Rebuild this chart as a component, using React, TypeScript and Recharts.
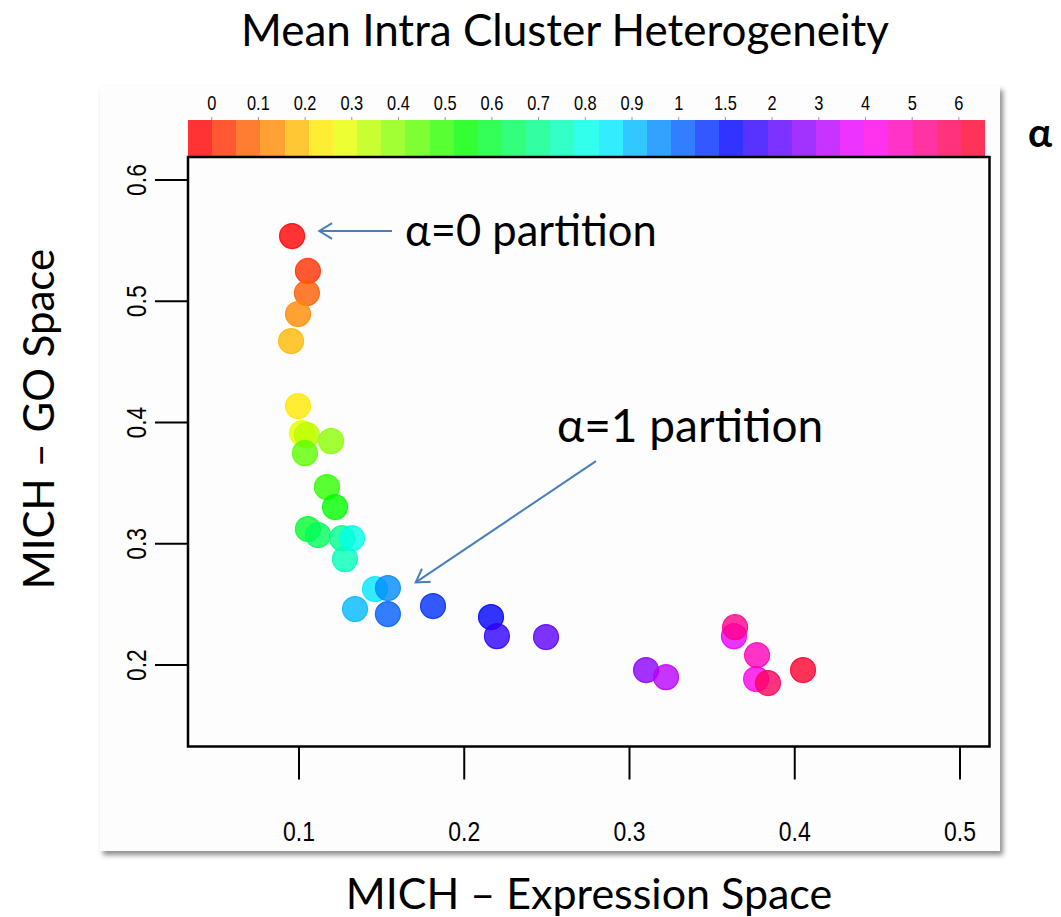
import React from 'react';
import {
  ScatterChart,
  Scatter,
  XAxis,
  YAxis,
  ReferenceArea,
  ReferenceLine,
} from 'recharts';

// ---------- data ----------
const alphaLabels = ['0', '0.1', '0.2', '0.3', '0.4', '0.5', '0.6', '0.7', '0.8', '0.9', '1', '1.5', '2', '3', '4', '5', '6'];
const alphaLabelPos = [0, 1, 2, 3, 4, 5, 6, 7, 8, 9, 10, 11, 12, 13, 14, 15, 16];

// MICH – Expression Space (x) and MICH – GO Space (y), ordered by alpha (colour index)
const xValues = [
  0.0958, 0.1054, 0.1048, 0.0994, 0.0952, 0.0994, 0.1018, 0.1048, 0.1194, 0.1036, 0.1169,
  0.1218, 0.1054, 0.1115, 0.1260, 0.1278, 0.1321, 0.1460, 0.1339, 0.1538, 0.1538, 0.1811,
  0.2162, 0.2198, 0.2495, 0.3100, 0.3221, 0.3632, 0.3766, 0.3772, 0.3639, 0.3838, 0.4050,
];
const yValues = [
  0.5538, 0.5250, 0.5068, 0.4895, 0.4672, 0.4136, 0.3913, 0.3897, 0.3847, 0.3748, 0.3468,
  0.3303, 0.3122, 0.3072, 0.3047, 0.2874, 0.3047, 0.2627, 0.2462, 0.2635, 0.2421, 0.2487,
  0.2396, 0.2239, 0.2231, 0.1959, 0.1901, 0.2239, 0.1885, 0.2082, 0.2313, 0.1852, 0.1959,
];
const paletteSize = 33;

const xTicks = [0.1, 0.2, 0.3, 0.4, 0.5];
const yTicks = [0.2, 0.3, 0.4, 0.5, 0.6];
const xDomain: [number, number] = [0.03283, 0.51785];
const yDomain: [number, number] = [0.1329, 0.61897];
const labDomain: [number, number] = [-0.5075, 16.559];

// annotation arrows: [start, end] in data units
const arrow0 = [{ x: 0.15628, y: 0.55794 }, { x: 0.1123, y: 0.55794 }];
const arrow1 = [{ x: 0.2797, y: 0.36825 }, { x: 0.17062, y: 0.2682 }];

// ---------- helpers ----------
const rainbow = (i: number) => `hsl(${(i * 360) / paletteSize}, 100%, 50%)`;

const points = xValues.map((x, i) => ({ x, y: yValues[i], idx: i }));
const cells = Array.from({ length: paletteSize }, (_, i) => i);

const SANS = "'Liberation Sans', Arial, sans-serif";
const HUMAN = "Lato, 'Open Sans', sans-serif";
const NARROW_SCALE = 0.82;

const Dot = (props: any) => {
  const { cx, cy, payload } = props;
  const c = rainbow(payload.idx);
  return (
    <circle cx={cx} cy={cy} r={12.5} fill={c} fillOpacity={0.8} stroke={c} strokeOpacity={0.85} strokeWidth={1.2} />
  );
};

const XTick = (props: any) => {
  const { x, y, payload } = props;
  return (
    <text transform={`translate(${x} ${y + 61}) scale(${NARROW_SCALE} 1)`} textAnchor="middle" fontSize={28} fontFamily={SANS} fill="#000">
      {payload.value}
    </text>
  );
};

const YTick = (props: any) => {
  const { x, y, payload } = props;
  const bx = x - 9;
  return (
    <text transform={`translate(${bx} ${y}) rotate(-90) scale(${NARROW_SCALE} 1)`} textAnchor="middle" fontSize={28} fontFamily={SANS} fill="#000">
      {payload.value}
    </text>
  );
};

const LabTick = (props: any) => {
  const { x, y, payload } = props;
  return (
    <text transform={`translate(${x} ${y}) scale(${NARROW_SCALE} 1)`} textAnchor="middle" fontSize={20} fontFamily={SANS} fill="#000">
      {alphaLabels[payload.value]}
    </text>
  );
};

const makeArrow = (label: string, dx: number, dy: number, size: number) => (props: any) => {
  const { x1, y1, x2, y2 } = props;
  const ang = Math.atan2(y2 - y1, x2 - x1);
  const L = 15;
  const spread = 0.55;
  const ax1 = x2 - L * Math.cos(ang - spread);
  const ay1 = y2 - L * Math.sin(ang - spread);
  const ax2 = x2 - L * Math.cos(ang + spread);
  const ay2 = y2 - L * Math.sin(ang + spread);
  return (
    <g>
      <line x1={x1} y1={y1} x2={x2} y2={y2} stroke="#4a7ebb" strokeWidth={2} />
      <polyline points={`${ax1},${ay1} ${x2},${y2} ${ax2},${ay2}`} fill="none" stroke="#4a7ebb" strokeWidth={2} />
      <text x={x1 + dx} y={y1 + dy} textAnchor="start" fontSize={size} fontFamily={HUMAN} fill="#000">
        {label}
      </text>
    </g>
  );
};

const Arrow0 = makeArrow('α=0 partition', 13, 15, 43.5);
const Arrow1 = makeArrow('α=1 partition', -39, -19, 46);

const abs = (style: React.CSSProperties): React.CSSProperties => ({ position: 'absolute', whiteSpace: 'nowrap', ...style });

export default function App() {
  return (
    <div style={{ position: 'absolute', left: 0, top: 0, width: 1061, height: 917, background: '#fff', overflow: 'hidden' }}>
      {/* card */}
      <div style={abs({ left: 100, top: 86, width: 900, height: 765, background: '#fdfdfd', boxShadow: '3px 4px 5px rgba(0,0,0,0.45)' })} />

      {/* colour key */}
      <div style={abs({ left: 0, top: 0 })}>
        <ScatterChart width={1061} height={160} margin={{ top: 90, left: 188, right: 76, bottom: 3 }}>
          <XAxis xAxisId="cells" type="number" dataKey="x" domain={[0, paletteSize]} hide allowDataOverflow />
          <XAxis
            xAxisId="lab"
            type="number"
            dataKey="x"
            orientation="top"
            domain={labDomain}
            ticks={alphaLabelPos}
            height={30}
            axisLine={false}
            tickLine={{ stroke: '#999' }}
            tickSize={3}
            tickMargin={7}
            interval={0}
            allowDataOverflow
            tick={<LabTick />}
          />
          <YAxis hide type="number" dataKey="y" domain={[0, 1]} allowDataOverflow />
          {cells.map((i) => (
            <ReferenceArea
              key={i}
              xAxisId="cells"
              x1={i}
              x2={i + 1}
              y1={0}
              y2={1}
              fill={rainbow(i)}
              fillOpacity={0.8}
              stroke="none"
              shapeRendering="crispEdges"
              ifOverflow="visible"
            />
          ))}
        </ScatterChart>
      </div>

      {/* scatter */}
      <div style={abs({ left: 0, top: 0 })}>
        <ScatterChart width={1061} height={917} margin={{ top: 157, right: 71.5, bottom: 120.5, left: 128 }}>
          <XAxis
            type="number"
            dataKey="x"
            domain={xDomain}
            ticks={xTicks}
            height={50}
            axisLine={false}
            tickLine={{ stroke: '#000', strokeWidth: 2 }}
            tickSize={33}
            tickMargin={0}
            tick={<XTick />}
            interval={0}
            allowDataOverflow
          />
          <YAxis
            type="number"
            dataKey="y"
            domain={yDomain}
            ticks={yTicks}
            width={60}
            axisLine={false}
            tickLine={{ stroke: '#000', strokeWidth: 2 }}
            tickSize={33}
            tickMargin={0}
            tick={<YTick />}
            interval={0}
            allowDataOverflow
          />
          <ReferenceArea x1={xDomain[0]} x2={xDomain[1]} y1={yDomain[0]} y2={yDomain[1]} fill="none" fillOpacity={0} stroke="#000" strokeWidth={2.5} ifOverflow="visible" />
          <Scatter data={points} shape={Dot} isAnimationActive={false} />
          <ReferenceLine segment={arrow0} shape={Arrow0} ifOverflow="visible" />
          <ReferenceLine segment={arrow1} shape={Arrow1} ifOverflow="visible" />
        </ScatterChart>
      </div>

      {/* titles */}
      <div style={abs({ left: 565, top: 29, transform: 'translate(-50%, -50%)', fontSize: 44, fontFamily: HUMAN, color: '#000', lineHeight: 1 })}>
        Mean Intra Cluster Heterogeneity
      </div>
      <div style={abs({ left: 589, top: 892, transform: 'translate(-50%, -50%)', fontSize: 43, fontFamily: HUMAN, color: '#000', lineHeight: 1 })}>
        MICH – Expression Space
      </div>
      <div style={abs({ left: 38, top: 419, transform: 'translate(-50%, -50%) rotate(-90deg)', fontSize: 42, fontFamily: HUMAN, color: '#000', lineHeight: 1 })}>
        MICH – GO Space
      </div>
      <div style={abs({ left: 1040, top: 132, transform: 'translate(-50%, -50%)', fontSize: 40, fontWeight: 700, fontFamily: HUMAN, color: '#000', lineHeight: 1 })}>
        α
      </div>
    </div>
  );
}
